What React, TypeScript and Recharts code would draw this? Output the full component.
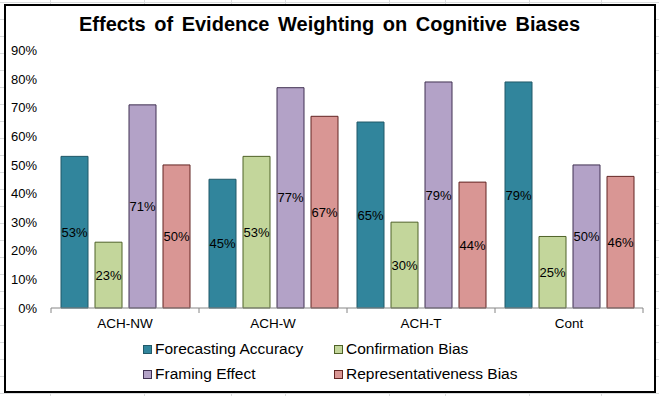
import { BarChart, Bar, XAxis, YAxis, LabelList } from "recharts";

const categories = ["ACH-NW", "ACH-W", "ACH-T", "Cont"];
const forecastingAccuracy = [53, 45, 65, 79];
const confirmationBias = [23, 53, 30, 25];
const framingEffect = [71, 77, 79, 50];
const representativenessBias = [50, 67, 44, 46];
const yTicks = [0, 10, 20, 30, 40, 50, 60, 70, 80, 90];

const series = [
  { key: "fa", name: "Forecasting Accuracy", values: forecastingAccuracy, fill: "#31859C", stroke: "#215968" },
  { key: "cb", name: "Confirmation Bias", values: confirmationBias, fill: "#C3D69B", stroke: "#4F6228" },
  { key: "fe", name: "Framing Effect", values: framingEffect, fill: "#B3A2C7", stroke: "#403152" },
  { key: "rb", name: "Representativeness Bias", values: representativenessBias, fill: "#D99694", stroke: "#632523" },
];

const data = categories.map((cat, i) => {
  const row: Record<string, string | number> = { cat };
  series.forEach((s) => (row[s.key] = s.values[i]));
  return row;
});

// spreadsheet cells behind the chart
const sheetCols = [50, 144, 231, 285, 389, 445, 529, 601];
const sheetRows = Array.from({ length: 24 }, (_, i) => 2 + i * 17);

const font = "'Liberation Sans', Arial, sans-serif";
const TICK_GAP = 10;

// category label plus Excel-style tick marks on the band edges
function CategoryTick(props: any) {
  const { x, y, payload, index, visibleTicksCount } = props;
  const half = payload?.offset || 74;
  const axisY = y - TICK_GAP;
  const last = index === visibleTicksCount - 1;
  return (
    <g>
      <line x1={x - half} x2={x - half} y1={axisY} y2={axisY + 5} stroke="#868686" />
      {last && <line x1={x + half} x2={x + half} y1={axisY} y2={axisY + 5} stroke="#868686" />}
      <text x={x} y={y} dy="0.71em" textAnchor="middle" fill="#000" fontSize={13.5} fontFamily={font}>
        {payload.value}
      </text>
    </g>
  );
}

export default function App() {
  return (
    <div style={{ position: "absolute", left: 0, top: 0, width: 659, height: 396, background: "#fff", overflow: "hidden", fontFamily: font }}>
      {sheetRows.map((y) => (
        <div key={"r" + y} style={{ position: "absolute", left: 0, top: y, width: 659, height: 1, background: "#DADCDD" }} />
      ))}
      {sheetCols.map((x) => (
        <div key={"c" + x} style={{ position: "absolute", left: x, top: 0, width: 1, height: 396, background: "#DADCDD" }} />
      ))}
      <div style={{ position: "absolute", left: 4, top: 4, width: 648, height: 385, background: "#fff", border: "2px solid #000" }} />

      <div style={{ position: "absolute", left: 0, top: 13, width: 659, textAlign: "center", fontWeight: "bold", fontSize: 20, whiteSpace: "pre", wordSpacing: 3, color: "#000" }}>
        Effects of Evidence Weighting on Cognitive Biases
      </div>

      <div style={{ position: "absolute", left: 0, top: 0 }}>
        <BarChart width={659} height={396} data={data} margin={{ top: 50.5, right: 16, left: 0, bottom: 58 }} barSize={27} barGap={7}>
          <YAxis
            domain={[0, 90]}
            ticks={yTicks}
            width={51}
            axisLine={false}
            tickLine={false}
            tickSize={0}
            tickMargin={14}
            tickFormatter={(v: number) => `${v}%`}
            tick={{ fill: "#000", fontSize: 13, fontFamily: font }}
          />
          <XAxis
            dataKey="cat"
            height={30}
            interval={0}
            axisLine={{ stroke: "#868686" }}
            tickLine={false}
            tickSize={0}
            tickMargin={TICK_GAP}
            tick={<CategoryTick />}
          />
          {series.map((s) => (
            <Bar key={s.key} dataKey={s.key} name={s.name} fill={s.fill} stroke={s.stroke} strokeWidth={1} isAnimationActive={false}>
              <LabelList
                dataKey={s.key}
                position="center"
                formatter={(v: number) => `${v}%`}
                style={{ fill: "#000", fontSize: 13, fontFamily: font }}
              />
            </Bar>
          ))}
        </BarChart>
      </div>

      {series.map((s, i) => (
        <div
          key={s.key}
          style={{
            position: "absolute",
            left: i % 2 === 0 ? 143 : 334,
            top: i < 2 ? 339 : 364,
            height: 20,
            display: "flex",
            alignItems: "center",
            fontSize: 15.5,
            color: "#000",
            whiteSpace: "nowrap",
          }}
        >
          <span style={{ display: "inline-block", width: 7, height: 7, background: s.fill, border: `1px solid ${s.stroke}`, marginRight: 3 }} />
          {s.name}
        </div>
      ))}
    </div>
  );
}
